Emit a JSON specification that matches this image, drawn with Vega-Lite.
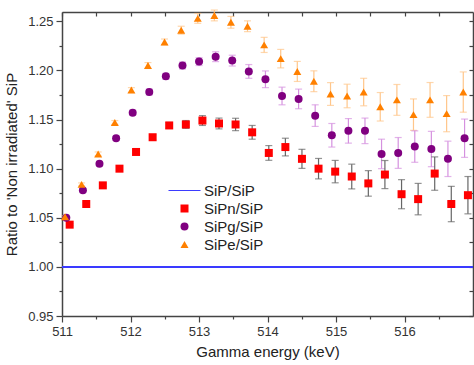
{
  "$schema": "https://vega.github.io/schema/vega-lite/v6.json",
  "width": 411,
  "height": 304,
  "autosize": {"type": "none"},
  "padding": {"left": 62, "top": 12, "right": 1, "bottom": 49},
  "config": {
    "font": "Liberation Sans",
    "view": {"stroke": null},
    "axis": {"grid": false, "labelFlush": false, "domainColor": "#444", "domainWidth": 1.5, "tickColor": "#444", "tickWidth": 1.2, "labelColor": "#333", "labelFontSize": 13, "titleColor": "#222", "titleFontSize": 15, "titleFontWeight": "normal"}
  },
  "data": {"values": [
    {"s":"SiPn/SiP","x":511.112,"y":1.043,"e":0.001},
    {"s":"SiPn/SiP","x":511.354,"y":1.064,"e":0.001},
    {"s":"SiPn/SiP","x":511.596,"y":1.083,"e":0.0015},
    {"s":"SiPn/SiP","x":511.839,"y":1.100,"e":0.002},
    {"s":"SiPn/SiP","x":512.081,"y":1.117,"e":0.002},
    {"s":"SiPn/SiP","x":512.323,"y":1.132,"e":0.0025},
    {"s":"SiPn/SiP","x":512.565,"y":1.144,"e":0.003},
    {"s":"SiPn/SiP","x":512.808,"y":1.145,"e":0.004},
    {"s":"SiPn/SiP","x":513.050,"y":1.149,"e":0.005},
    {"s":"SiPn/SiP","x":513.292,"y":1.146,"e":0.0055},
    {"s":"SiPn/SiP","x":513.534,"y":1.145,"e":0.0063},
    {"s":"SiPn/SiP","x":513.776,"y":1.137,"e":0.007},
    {"s":"SiPn/SiP","x":514.019,"y":1.116,"e":0.0075},
    {"s":"SiPn/SiP","x":514.261,"y":1.122,"e":0.009},
    {"s":"SiPn/SiP","x":514.503,"y":1.110,"e":0.0097},
    {"s":"SiPn/SiP","x":514.745,"y":1.100,"e":0.0104},
    {"s":"SiPn/SiP","x":514.988,"y":1.097,"e":0.0114},
    {"s":"SiPn/SiP","x":515.230,"y":1.092,"e":0.0126},
    {"s":"SiPn/SiP","x":515.472,"y":1.085,"e":0.013},
    {"s":"SiPn/SiP","x":515.714,"y":1.094,"e":0.0143},
    {"s":"SiPn/SiP","x":515.957,"y":1.074,"e":0.0148},
    {"s":"SiPn/SiP","x":516.199,"y":1.069,"e":0.016},
    {"s":"SiPn/SiP","x":516.441,"y":1.095,"e":0.017},
    {"s":"SiPn/SiP","x":516.683,"y":1.064,"e":0.018},
    {"s":"SiPn/SiP","x":516.926,"y":1.073,"e":0.019},
    {"s":"SiPg/SiP","x":511.063,"y":1.050,"e":0.001},
    {"s":"SiPg/SiP","x":511.305,"y":1.078,"e":0.0015},
    {"s":"SiPg/SiP","x":511.547,"y":1.105,"e":0.002},
    {"s":"SiPg/SiP","x":511.790,"y":1.131,"e":0.002},
    {"s":"SiPg/SiP","x":512.032,"y":1.157,"e":0.0025},
    {"s":"SiPg/SiP","x":512.274,"y":1.178,"e":0.003},
    {"s":"SiPg/SiP","x":512.516,"y":1.194,"e":0.003},
    {"s":"SiPg/SiP","x":512.759,"y":1.205,"e":0.0035},
    {"s":"SiPg/SiP","x":513.001,"y":1.209,"e":0.004},
    {"s":"SiPg/SiP","x":513.243,"y":1.214,"e":0.005},
    {"s":"SiPg/SiP","x":513.485,"y":1.210,"e":0.0055},
    {"s":"SiPg/SiP","x":513.727,"y":1.199,"e":0.007},
    {"s":"SiPg/SiP","x":513.970,"y":1.191,"e":0.0085},
    {"s":"SiPg/SiP","x":514.212,"y":1.174,"e":0.009},
    {"s":"SiPg/SiP","x":514.454,"y":1.171,"e":0.010},
    {"s":"SiPg/SiP","x":514.696,"y":1.154,"e":0.011},
    {"s":"SiPg/SiP","x":514.939,"y":1.134,"e":0.012},
    {"s":"SiPg/SiP","x":515.181,"y":1.1385,"e":0.0125},
    {"s":"SiPg/SiP","x":515.423,"y":1.1385,"e":0.013},
    {"s":"SiPg/SiP","x":515.665,"y":1.115,"e":0.015},
    {"s":"SiPg/SiP","x":515.908,"y":1.116,"e":0.0157},
    {"s":"SiPg/SiP","x":516.150,"y":1.1225,"e":0.016},
    {"s":"SiPg/SiP","x":516.392,"y":1.120,"e":0.018},
    {"s":"SiPg/SiP","x":516.634,"y":1.110,"e":0.018},
    {"s":"SiPg/SiP","x":516.877,"y":1.131,"e":0.0195},
    {"s":"SiPe/SiP","x":511.044,"y":1.051,"e":0.001},
    {"s":"SiPe/SiP","x":511.286,"y":1.084,"e":0.0015},
    {"s":"SiPe/SiP","x":511.528,"y":1.115,"e":0.002},
    {"s":"SiPe/SiP","x":511.771,"y":1.147,"e":0.002},
    {"s":"SiPe/SiP","x":512.013,"y":1.180,"e":0.0025},
    {"s":"SiPe/SiP","x":512.255,"y":1.205,"e":0.003},
    {"s":"SiPe/SiP","x":512.497,"y":1.229,"e":0.003},
    {"s":"SiPe/SiP","x":512.740,"y":1.241,"e":0.004},
    {"s":"SiPe/SiP","x":512.982,"y":1.253,"e":0.005},
    {"s":"SiPe/SiP","x":513.224,"y":1.256,"e":0.0055},
    {"s":"SiPe/SiP","x":513.466,"y":1.249,"e":0.006},
    {"s":"SiPe/SiP","x":513.708,"y":1.245,"e":0.0055},
    {"s":"SiPe/SiP","x":513.951,"y":1.226,"e":0.0077},
    {"s":"SiPe/SiP","x":514.193,"y":1.212,"e":0.0094},
    {"s":"SiPe/SiP","x":514.435,"y":1.199,"e":0.0102},
    {"s":"SiPe/SiP","x":514.677,"y":1.189,"e":0.0106},
    {"s":"SiPe/SiP","x":514.920,"y":1.176,"e":0.0116},
    {"s":"SiPe/SiP","x":515.162,"y":1.174,"e":0.012},
    {"s":"SiPe/SiP","x":515.404,"y":1.178,"e":0.014},
    {"s":"SiPe/SiP","x":515.646,"y":1.163,"e":0.0145},
    {"s":"SiPe/SiP","x":515.889,"y":1.170,"e":0.0157},
    {"s":"SiPe/SiP","x":516.131,"y":1.155,"e":0.016},
    {"s":"SiPe/SiP","x":516.373,"y":1.170,"e":0.0177},
    {"s":"SiPe/SiP","x":516.615,"y":1.156,"e":0.0184},
    {"s":"SiPe/SiP","x":516.858,"y":1.178,"e":0.0205}
  ]},
  "resolve": {"axis": {"x": "independent", "y": "independent"}},
  "layer": [
    {
      "mark": {"type": "point", "opacity": 0},
      "encoding": {
        "x": {"field": "x", "type": "quantitative", "scale": {"domain": [511, 517], "nice": false, "zero": false},
              "axis": {"orient": "top", "values": [511,511.5,512,512.5,513,513.5,514,514.5,515,515.5,516,516.5], "labels": false, "title": null, "tickSize": -4}},
        "y": {"field": "y", "type": "quantitative", "scale": {"domain": [0.95, 1.2595], "nice": false, "zero": false},
              "axis": {"orient": "right", "values": [0.95,0.975,1.0,1.025,1.05,1.075,1.1,1.125,1.15,1.175,1.2,1.225,1.25], "labels": false, "title": null, "tickSize": -4}}
      }
    },
    {
      "mark": {"type": "rule", "color": "#3b3bff", "strokeWidth": 1.2},
      "encoding": {"y": {"datum": 1, "type": "quantitative", "axis": null}}
    },
    {
      "transform": [{"filter": "datum.s === 'SiPe/SiP'"}],
      "mark": {"type": "errorbar", "ticks": {"size": 7}, "color": "#ffc68a", "thickness": 1.2},
      "encoding": {
        "x": {"field": "x", "type": "quantitative", "axis": null},
        "y": {"field": "y", "type": "quantitative", "axis": null},
        "yError": {"field": "e"}
      }
    },
    {
      "transform": [{"filter": "datum.s === 'SiPg/SiP'"}],
      "mark": {"type": "errorbar", "ticks": {"size": 7}, "color": "#d591df", "thickness": 1.2},
      "encoding": {
        "x": {"field": "x", "type": "quantitative", "axis": null},
        "y": {"field": "y", "type": "quantitative", "axis": null},
        "yError": {"field": "e"}
      }
    },
    {
      "transform": [{"filter": "datum.s === 'SiPn/SiP'"}],
      "mark": {"type": "errorbar", "ticks": {"size": 7}, "color": "#666666", "thickness": 1.2},
      "encoding": {
        "x": {"field": "x", "type": "quantitative", "axis": null},
        "y": {"field": "y", "type": "quantitative", "axis": null},
        "yError": {"field": "e"}
      }
    },
    {
      "mark": {"type": "point", "filled": true, "opacity": 1},
      "encoding": {
        "x": {"field": "x", "type": "quantitative",
              "axis": {"orient": "bottom", "values": [511,511.5,512,512.5,513,513.5,514,514.5,515,515.5,516,516.5], "format": ".0f",
                       "labelExpr": "datum.value % 1 === 0 ? datum.label : ''",
                       "tickSize": {"condition": {"test": "datum.value % 1 === 0", "value": 6}, "value": 3},
                       "labelPadding": 3, "title": "Gamma energy (keV)", "titlePadding": 6}},
        "y": {"field": "y", "type": "quantitative",
              "axis": {"orient": "left", "values": [0.95,0.975,1.0,1.025,1.05,1.075,1.1,1.125,1.15,1.175,1.2,1.225,1.25], "format": ".2f",
                       "labelExpr": "round(datum.value*40) % 2 === 0 ? datum.label : ''",
                       "tickSize": {"condition": {"test": "round(datum.value*40) % 2 === 0", "value": 6}, "value": 3},
                       "labelPadding": 3, "title": "Ratio to 'Non irradiated' SiP", "titlePadding": 8}},
        "color": {"field": "s", "type": "nominal",
                  "scale": {"domain": ["SiP/SiP","SiPn/SiP","SiPg/SiP","SiPe/SiP"], "range": ["#3b3bff","#ff0000","#800080","#ff8000"]},
                  "legend": {"title": null, "orient": "none", "legendX": 115, "legendY": 171, "labelFontSize": 15, "labelColor": "#222", "labelOffset": 12, "rowPadding": 2}},
        "shape": {"field": "s", "type": "nominal",
                  "scale": {"domain": ["SiP/SiP","SiPn/SiP","SiPg/SiP","SiPe/SiP"], "range": ["M-4,-0.15L4,-0.15L4,0.15L-4,0.15Z","square","circle","triangle-up"]}},
        "size": {"field": "s", "type": "nominal",
                 "scale": {"domain": ["SiP/SiP","SiPn/SiP","SiPg/SiP","SiPe/SiP"], "range": [64, 64, 60, 95]}}
      }
    }
  ]
}
